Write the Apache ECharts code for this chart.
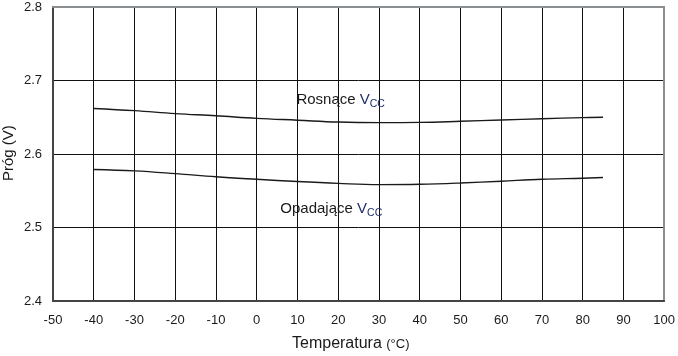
<!DOCTYPE html>
<html><head><meta charset="utf-8">
<script src="https://cdn.jsdelivr.net/npm/echarts@6/dist/echarts.min.js"></script>
<style>html,body{margin:0;padding:0;background:#fff}#c{width:678px;height:356px}</style>
</head><body><div id="c"></div>
<script>
const temps = [-40,-30,-20,-10,0,10,20,30,40,50,60,70,80,85];
const rising = [2.662,2.659,2.655,2.652,2.6485,2.646,2.6435,2.6427,2.643,2.6445,2.6463,2.648,2.6495,2.650];
const falling = [2.579,2.577,2.5733,2.569,2.5656,2.5625,2.560,2.5584,2.5588,2.5605,2.563,2.5656,2.567,2.568];
const xTicks = {min:-50, max:100, interval:10};
const yTicks = {min:2.4, max:2.8, interval:0.1};
const risingLabelPos = [20.6, 2.674];
const fallingLabelPos = [18.3, 2.525];

const FONT = 'Liberation Sans, Arial, Helvetica, sans-serif';
const TXT = '#1a1a1a';
const chart = echarts.init(document.getElementById('c'));
const pair = (xs, ys) => xs.map((x,i)=>[x, ys[i]]);
const labelRich = {
  m:{fontSize:15, color:TXT, fontFamily:FONT},
  s:{fontSize:10.5, color:'#1f2f6b', fontFamily:FONT, padding:[8,0,0,0]},
  v:{fontSize:15, color:'#1f2f6b', fontFamily:FONT}
};
const mk = (pos, name) => ({
  symbol:'circle', symbolSize:0, silent:true,
  data:[{coord:pos, value:name}],
  label:{show:true, position:'inside', formatter: '{m|'+name+' }{v|V}{s|CC}', rich:labelRich}
});
chart.setOption({
  animation:false,
  grid:{left:53, top:7, width:614, height:294, show:false},
  xAxis:[{
    type:'value', min:xTicks.min, max:xTicks.max, interval:xTicks.interval,
    axisLine:{show:true, onZero:false, lineStyle:{color:'#444', width:2}},
    axisTick:{show:false},
    splitLine:{show:true, lineStyle:{color:'#111', width:1}},
    axisLabel:{color:TXT, fontSize:13, fontFamily:FONT, margin:13, showMaxLabel:true, showMinLabel:true}
  },{
    type:'value', position:'top', min:xTicks.min, max:xTicks.max, interval:xTicks.interval,
    axisLine:{show:true, onZero:false, lineStyle:{color:'#8a8e91', width:2}},
    axisTick:{show:false}, axisLabel:{show:false}, splitLine:{show:false}
  }],
  yAxis:[{
    type:'value', min:yTicks.min, max:yTicks.max, interval:yTicks.interval,
    axisLine:{show:true, onZero:false, lineStyle:{color:'#444', width:2}},
    axisTick:{show:false},
    splitLine:{show:true, lineStyle:{color:'#111', width:1}},
    axisLabel:{color:TXT, fontSize:13, fontFamily:FONT, margin:11, formatter:v=>v.toFixed(1)}
  },{
    type:'value', position:'right', min:yTicks.min, max:yTicks.max, interval:yTicks.interval,
    axisLine:{show:true, onZero:false, lineStyle:{color:'#8a8e91', width:2}},
    axisTick:{show:false}, axisLabel:{show:false}, splitLine:{show:false}
  }],
  graphic:[
    {type:'text', left:292, top:336, style:{rich:{a:{fontSize:16,fill:TXT,fontFamily:FONT},b:{fontSize:13,fill:TXT,fontFamily:FONT}}, text:'{a|Temperatura }{b|(°C)}'}},
    {type:'text', x:1, y:181, rotation:Math.PI/2, style:{text:'Próg (V)', fontSize:15, fill:TXT, fontFamily:FONT}}
  ],
  series:[
    {type:'line', data:pair(temps, rising), smooth:0.4, showSymbol:false, symbol:'none',
     lineStyle:{color:'#1a1a1a', width:1.4}, markPoint: mk(risingLabelPos, 'Rosnące')},
    {type:'line', data:pair(temps, falling), smooth:0.4, showSymbol:false, symbol:'none',
     lineStyle:{color:'#1a1a1a', width:1.4}, markPoint: mk(fallingLabelPos, 'Opadające')}
  ]
});
</script></body></html>
